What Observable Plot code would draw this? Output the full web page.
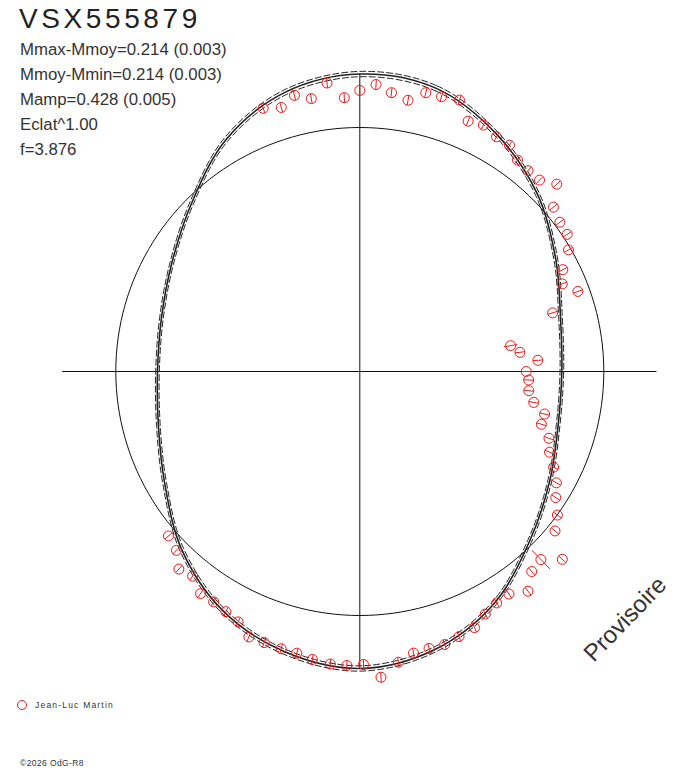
<!DOCTYPE html>
<html><head><meta charset="utf-8">
<script src="https://cdn.jsdelivr.net/npm/d3@7"></script>
<script src="https://cdn.jsdelivr.net/npm/@observablehq/plot@0.6"></script>
<style>
body{margin:0;background:#fff;font-family:"Liberation Sans",Arial,sans-serif;}
#wrap{position:relative;width:688px;height:768px;overflow:hidden;background:#fff;}
#wrap svg{position:absolute;left:0;top:0;}
.t{position:absolute;white-space:nowrap;color:#222;}
</style></head><body><div id="wrap"></div>
<script>
// ---- data ----
const starName = "VSX555879";
const infoLines = ["Mmax-Mmoy=0.214 (0.003)", "Mmoy-Mmin=0.214 (0.003)", "Mamp=0.428 (0.005)", "Eclat^1.00", "f=3.876"];
const observer = "Jean-Luc Martin";
const mmaxMinusMmoy = 0.214;
// observations: phase (0..1, clockwise from top) and brightness relative to mean (Eclat, circle = 1)
const obsPhase = [0.944,0.954,0.963,0.972,0.982,0.991,0.000,0.009,0.018,0.028,
  0.037,0.046,0.056,0.065,0.074,0.084,0.093,0.102,0.111,0.120,
  0.129,0.138,0.148,0.157,0.166,0.176,0.185,0.194,0.203,0.223,
  0.231,0.240,0.250,0.258,0.268,0.278,0.286,0.295,0.304,0.314,
  0.323,0.332,0.341,0.350,0.359,0.378,0.369,0.387,0.396,0.406,
  0.415,0.424,0.433,0.443,0.452,0.461,0.470,0.479,0.489,0.498,
  0.507,0.516,0.526,0.535,0.544,0.554,0.563,0.572,0.581,0.590,
  0.599,0.609,0.618,0.627,0.637];
const obsEclat = [1.149,1.129,1.163,1.136,1.190,1.124,1.152,1.178,1.150,1.129,
  1.174,1.175,1.185,1.118,1.130,1.113,1.112,1.081,1.074,1.076,
  1.114,1.041,1.023,1.019,0.990,0.931,0.904,0.952,0.826,0.627,
  0.661,0.731,0.682,0.693,0.697,0.724,0.777,0.775,0.822,0.845,
  0.886,0.926,0.955,1.001,1.033,1.070,1.132,1.081,1.134,1.098,
  1.102,1.119,1.150,1.160,1.172,1.170,1.175,1.202,1.256,1.201,
  1.206,1.205,1.196,1.183,1.181,1.178,1.179,1.141,1.127,1.118,
  1.120,1.083,1.098,1.050,1.034];
const obsErr = [0.020,0.020,0.020,0.020,0.020,0.020,0.020,0.020,0.020,0.020,
  0.020,0.020,0.020,0.020,0.020,0.020,0.020,0.020,0.020,0.020,
  0.020,0.020,0.020,0.020,0.020,0.020,0.020,0.020,0.020,0.028,
  0.020,0.020,0.020,0.020,0.020,0.020,0.020,0.020,0.020,0.020,
  0.020,0.020,0.020,0.020,0.020,0.053,0.020,0.020,0.020,0.020,
  0.020,0.020,0.020,0.020,0.020,0.020,0.020,0.020,0.020,0.020,
  0.020,0.020,0.020,0.020,0.020,0.020,0.020,0.020,0.020,0.020,
  0.020,0.020,0.020,0.020,0.020];
// fitted curve
const fitPhase = [0.000,0.042,0.083,0.125,0.167,0.208,0.250,0.292,0.333,0.375,0.417,0.458,
  0.500,0.542,0.583,0.625,0.667,0.708,0.750,0.792,0.833,0.875,0.917,0.958];
const fitEclat = [1.219,1.202,1.123,1.029,0.926,0.852,0.828,0.842,0.898,0.984,1.100,1.180,
  1.217,1.189,1.129,1.032,0.922,0.855,0.829,0.842,0.889,0.975,1.098,1.184];
const fitBand = 0.009;

// ---- layout ----
const W = 688, H = 768, cx = 359.3, cy = 371, R = 244;
const xDomain = [-cx / R, (W - cx) / R];
const yDomain = [-(H - cy) / R, cy / R];
const TAU = 2 * Math.PI;
const px = (p, f) => f * Math.sin(TAU * p);
const py = (p, f) => f * Math.cos(TAU * p);
const rmax = Math.pow(10, 0.4 * mmaxMinusMmoy);

const obs = obsPhase.map((p, i) => ({p, f: obsEclat[i], e: obsErr[i]}));
const fit = fitPhase.map((p, i) => ({p, f: fitEclat[i]}));
const circle = d3.range(0, 361, 2).map(a => a / 360);

const chart = Plot.plot({
  width: W, height: H,
  marginTop: 0, marginRight: 0, marginBottom: 0, marginLeft: 0,
  x: {domain: xDomain, axis: null},
  y: {domain: yDomain, axis: null},
  style: {background: "transparent", overflow: "visible"},
  marks: [
    Plot.ruleY([0], {x1: () => -rmax, x2: () => rmax, stroke: "#111", strokeWidth: 1}),
    Plot.ruleX([0], {y1: () => -rmax, y2: () => rmax, stroke: "#111", strokeWidth: 1}),
    Plot.line(circle, {x: p => px(p, 1), y: p => py(p, 1), stroke: "#111", strokeWidth: 1}),
    Plot.line(fit, {x: d => px(d.p, d.f * (1 + fitBand)), y: d => py(d.p, d.f * (1 + fitBand)), curve: "catmull-rom-closed", stroke: "#222", strokeWidth: 1, strokeDasharray: "6,3"}),
    Plot.line(fit, {x: d => px(d.p, d.f * (1 - fitBand)), y: d => py(d.p, d.f * (1 - fitBand)), curve: "catmull-rom-closed", stroke: "#222", strokeWidth: 1, strokeDasharray: "6,3"}),
    Plot.line(fit, {x: d => px(d.p, d.f), y: d => py(d.p, d.f), curve: "catmull-rom-closed", stroke: "#222", strokeWidth: 1.6}),
    Plot.link(obs, {x1: d => px(d.p, d.f - d.e), y1: d => py(d.p, d.f - d.e), x2: d => px(d.p, d.f + d.e), y2: d => py(d.p, d.f + d.e), stroke: "#f01818", strokeWidth: 1}),
    Plot.dot(obs, {x: d => px(d.p, d.f), y: d => py(d.p, d.f), r: 5, stroke: "#f01818", strokeWidth: 1, fill: "none"})
  ]
});

const wrap = document.getElementById("wrap");
wrap.appendChild(chart);

function addText(txt, style) {
  const d = document.createElement("div");
  d.className = "t";
  d.textContent = txt;
  Object.assign(d.style, style);
  wrap.appendChild(d);
  return d;
}
addText(starName, {left: "19px", top: "4.5px", fontSize: "28px", lineHeight: "28px", letterSpacing: "3.6px", color: "#222"});
addText(infoLines.join("\n"), {left: "20px", top: "37.3px", fontSize: "16.8px", lineHeight: "25px", whiteSpace: "pre", color: "#333"});
addText("Provisoire", {left: "625px", top: "619px", fontSize: "24px", lineHeight: "24px", color: "#333", transform: "translate(-50%,-50%) rotate(-46deg)"});
const lc = document.createElement("div");
Object.assign(lc.style, {position: "absolute", left: "17.3px", top: "700px", width: "10px", height: "10px", border: "1px solid #e02020", borderRadius: "50%", boxSizing: "border-box"});
wrap.appendChild(lc);
addText(observer, {left: "35px", top: "700.8px", fontSize: "8.5px", lineHeight: "8.5px", letterSpacing: "1.2px", color: "#333"});
addText("©2026 OdG-R8", {left: "20px", top: "758.8px", fontSize: "8.5px", lineHeight: "8.5px", letterSpacing: "0.4px", color: "#333"});
</script></body></html>
